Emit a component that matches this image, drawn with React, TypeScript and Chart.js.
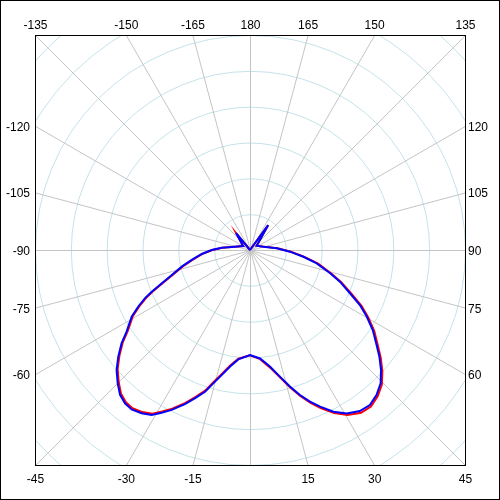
import React, { useEffect, useRef } from "react";
import { Chart, registerables } from "chart.js";

Chart.register(...registerables);

// Polar angles in degrees (0 = down, positive = towards the right side)
const angles = [
  180, 165, 150, 143.8, 140, 135, 130, 122.7, 110, 104, 93.6, 87.6, 82.8, 78.7, 73.8, 70.6,
  66.6, 63.4, 60.3, 56.9, 53.5, 50.5, 47.5, 44.4, 41.1, 37.7, 34.3, 30.6, 27.3, 24.1, 21.6,
  19.0, 16.3, 13.3, 9.7, 5.3, 0, -6.1, -9.7, -12.8, -15.4, -17.6, -20.3, -22.9, -26.1, -28.5,
  -30.8, -33.6, -36.6, -39.2, -41.9, -44.8, -48.0, -51.0, -54.0, -56.5, -60.6, -63.1, -65.3,
  -67.0, -69.3, -72.3, -76.3, -80.3, -85.3, -90, -94.6, -102.4, -110, -119.7, -130, -135,
  -140.5, -150, -165, -180,
];

// Radius values (one ring = 1 unit)
const redSeries = [
  0, 0, 0, 0.85, 0.55, 0.39, 0.3, 0.22, 0.31, 0.39, 0.77, 1.14, 1.53, 1.94, 2.37, 2.7,
  3.09, 3.48, 3.8, 4.14, 4.43, 4.73, 5.01, 5.26, 5.42, 5.52, 5.5, 5.35, 5.12, 4.83, 4.59,
  4.31, 4.0, 3.66, 3.33, 3.06, 2.94, 3.05, 3.27, 3.55, 3.82, 4.11, 4.37, 4.63, 4.93, 5.13,
  5.32, 5.43, 5.5, 5.48, 5.39, 5.2, 4.97, 4.69, 4.39, 4.09, 3.75, 3.46, 3.19,
  2.94, 2.6, 2.26, 1.93, 1.63, 1.33, 1.05, 0.78, 0.43, 0.3, 0.22, 0.32, 0.41,
  0.6, 0, 0, 0,
];

const blueSeries = [
  0, 0, 0, 0.86, 0.56, 0.39, 0.3, 0.22, 0.3, 0.38, 0.75, 1.12, 1.5, 1.9, 2.33, 2.66,
  3.04, 3.43, 3.75, 4.09, 4.38, 4.68, 4.96, 5.21, 5.37, 5.47, 5.44, 5.3, 5.08, 4.79, 4.55,
  4.28, 3.97, 3.63, 3.3, 3.04, 2.93, 3.07, 3.3, 3.58, 3.86, 4.15, 4.41, 4.67, 4.97, 5.17,
  5.36, 5.47, 5.54, 5.52, 5.43, 5.24, 5.01, 4.73, 4.43, 4.13, 3.79, 3.5, 3.23,
  2.98, 2.63, 2.29, 1.96, 1.65, 1.35, 1.07, 0.79, 0.43, 0.3, 0.22, 0.32, 0.41,
  0.61, 0, 0, 0,
];

const ringValues = [1, 2, 3, 4, 5, 6, 7, 8];
const radialStepDeg = 15;
const tickLabelAngles = [
  -135, -150, -165, 180, 165, 150, 135,
  120, 105, 90, 75, 60,
  45, 30, 15, -15, -30, -45,
  -60, -75, -90, -105, -120,
];
const radiusMax = 6;

const RING_COLOR = "#c4e2ea";
const RADIAL_COLOR = "#c4c4c4";
const LABEL_FONT = '12px "Liberation Sans", Arial, sans-serif';

function toPoints(angs: number[], radii: number[]) {
  return angs.map((a, i) => {
    const t = (a * Math.PI) / 180;
    return { x: radii[i] * Math.sin(t), y: -radii[i] * Math.cos(t) };
  });
}

function edgePoint(deg: number) {
  const t = (deg * Math.PI) / 180;
  const s = Math.sin(t);
  const c = Math.cos(t);
  const k = radiusMax / Math.max(Math.abs(s), Math.abs(c));
  return { vx: k * s, vy: -k * c, s, c };
}

const polarFrame = {
  id: "polarFrame",
  beforeDatasetsDraw(chart: any) {
    const { ctx, chartArea: ca, scales } = chart;
    const xs = scales.x;
    const ys = scales.y;
    const cx = xs.getPixelForValue(0);
    const cy = ys.getPixelForValue(0);
    const unit = xs.getPixelForValue(1) - cx;
    ctx.save();
    ctx.translate(0.5, 0.5);
    ctx.beginPath();
    ctx.rect(ca.left, ca.top, ca.right - ca.left, ca.bottom - ca.top);
    ctx.clip();
    ctx.lineWidth = 1;
    ctx.strokeStyle = RING_COLOR;
    ringValues.forEach((r) => {
      ctx.beginPath();
      ctx.arc(cx, cy, r * unit, 0, Math.PI * 2);
      ctx.stroke();
    });
    ctx.strokeStyle = RADIAL_COLOR;
    for (let a = 0; a < 360; a += radialStepDeg) {
      const e = edgePoint(a);
      ctx.beginPath();
      ctx.moveTo(cx, cy);
      ctx.lineTo(xs.getPixelForValue(e.vx), ys.getPixelForValue(e.vy));
      ctx.stroke();
    }
    ctx.restore();
  },
  afterDraw(chart: any) {
    const { ctx, chartArea: ca, scales, width, height } = chart;
    const xs = scales.x;
    const ys = scales.y;
    ctx.save();
    ctx.strokeStyle = "#000";
    ctx.lineWidth = 1;
    ctx.strokeRect(ca.left + 0.5, ca.top + 0.5, ca.right - ca.left, ca.bottom - ca.top);
    ctx.strokeRect(0.5, 0.5, width - 1, height - 1);
    ctx.fillStyle = "#000";
    ctx.font = LABEL_FONT;
    ctx.textBaseline = "alphabetic";
    tickLabelAngles.forEach((deg) => {
      const e = edgePoint(deg);
      const px = xs.getPixelForValue(e.vx);
      const py = ys.getPixelForValue(e.vy);
      const text = String(deg);
      if (Math.abs(e.c) >= Math.abs(e.s) - 1e-9) {
        ctx.textAlign = "center";
        if (e.c < 0) ctx.fillText(text, px + 0.5, ca.top - 6);
        else ctx.fillText(text, px + 0.5, ca.bottom + 18);
      } else if (e.s < 0) {
        ctx.textAlign = "right";
        ctx.fillText(text, ca.left - 5, py + 5);
      } else {
        ctx.textAlign = "left";
        ctx.fillText(text, ca.right + 3, py + 5);
      }
    });
    ctx.restore();
  },
};

export default function App() {
  const canvasRef = useRef<HTMLCanvasElement | null>(null);

  useEffect(() => {
    const canvas = canvasRef.current;
    if (!canvas) return;
    const chart = new Chart(canvas, {
      type: "scatter",
      data: {
        datasets: [
          {
            label: "blue",
            data: toPoints(angles, blueSeries),
            showLine: true,
            borderColor: "#0000ff",
            backgroundColor: "#0000ff",
            borderWidth: 2,
            pointRadius: 0,
            fill: false,
            tension: 0,
          },
          {
            label: "red",
            data: toPoints(angles, redSeries),
            showLine: true,
            borderColor: "#ff0000",
            backgroundColor: "#ff0000",
            borderWidth: 2,
            pointRadius: 0,
            fill: false,
            tension: 0,
          },
        ],
      },
      options: {
        responsive: false,
        maintainAspectRatio: false,
        devicePixelRatio: 1,
        animation: false,
        layout: { padding: 35 },
        plugins: { legend: { display: false }, tooltip: { enabled: false } },
        scales: {
          x: { type: "linear", min: -radiusMax, max: radiusMax, display: false },
          y: { type: "linear", min: -radiusMax, max: radiusMax, display: false },
        },
      },
      plugins: [polarFrame],
    });
    return () => chart.destroy();
  }, []);

  return (
    <div style={{ position: "absolute", left: 0, top: 0, width: 500, height: 500, background: "#fff" }}>
      <canvas ref={canvasRef} width={500} height={500} style={{ display: "block" }} />
    </div>
  );
}
